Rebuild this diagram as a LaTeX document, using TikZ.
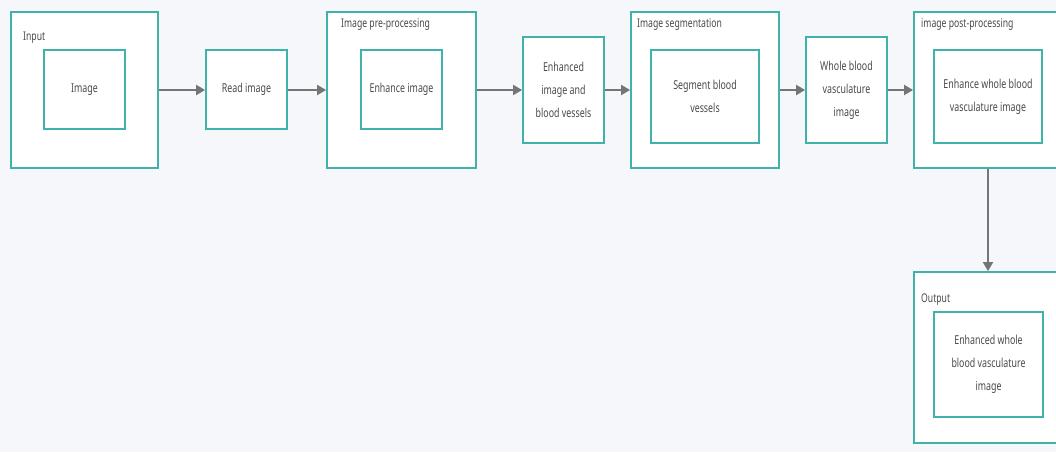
\documentclass[tikz,border=0pt]{standalone}
\usepackage{fontspec}
\setmainfont{Noto Sans}[FakeStretch=0.72]
\usetikzlibrary{arrows.meta}
\definecolor{bgc}{HTML}{F6F7FA}
\definecolor{teal}{HTML}{3FB3AB}
\definecolor{txt}{HTML}{4A4A4A}
\definecolor{arr}{HTML}{757575}
\tikzset{
  frame/.style={draw=teal, line width=1.8pt, fill=white, inner sep=0pt},
  box/.style={frame, align=center, text=txt, font=\fontsize{12.3}{23}\selectfont},
  tag/.style={anchor=west, text=txt, inner sep=0pt, font=\fontsize{12}{14}\selectfont},
  flow/.style={draw=arr, line width=1.8pt, -{Triangle[length=9pt,width=10pt]}},
}
\begin{document}
\begin{tikzpicture}[x=1pt,y=-1pt]
\fill[bgc] (0,0) rectangle (1056,452);
\useasboundingbox (0,0) rectangle (1056,452);
\begin{scope}
\clip (0,0) rectangle (1056,452);
% outer stage frames
\node[frame, minimum width=147pt, minimum height=156pt] (inO)   at (84.5,90) {};
\node[frame, minimum width=149pt, minimum height=156pt] (preO)  at (401.5,90) {};
\node[frame, minimum width=148pt, minimum height=156pt] (segO)  at (705,90) {};
\node[frame, minimum width=148pt, minimum height=156pt] (postO) at (988,90) {};
\node[frame, minimum width=148pt, minimum height=171pt] (outO)  at (988,357.5) {};
% stage titles
\node[tag] (tIn)   at (23,38)  {Input};
\node[tag] (tPre)  at (341,25) {Image pre-processing};
\node[tag] (tSeg)  at (637,25) {Image segmentation};
\node[tag] (tPost) at (921,25) {image post-processing};
\node[tag] (tOut)  at (921,300) {Output};
% process boxes
\node[box, minimum width=81pt, minimum height=79pt]  (img)   at (84.5,89.5)  {Image};
\node[box, minimum width=81pt, minimum height=79pt]  (read)  at (246.5,89.5) {Read image};
\node[box, minimum width=81pt, minimum height=79pt]  (enhI)  at (401.5,89.5) {Enhance image};
\node[box, minimum width=81pt, minimum height=106pt] (enhV)  at (563.5,90)   {Enhanced\\image and\\blood vessels};
\node[box, minimum width=108pt, minimum height=93pt] (segI)  at (705,96.5)   {Segment blood\\vessels};
\node[box, minimum width=81pt, minimum height=106pt] (whole) at (846.5,90)   {Whole blood\\vasculature\\image};
\node[box, minimum width=108pt, minimum height=93pt] (postI) at (988,96.5)   {Enhance whole blood\\vasculature image};
\node[box, minimum width=109pt, minimum height=105pt] (outI) at (988.5,364.5) {Enhanced whole\\blood vasculature\\image};
% connectors
\draw[flow] (inO.east |- 0,90) -- (read.west |- 0,90);
\draw[flow] (read.east |- 0,90) -- (preO.west |- 0,90);
\draw[flow] (preO.east |- 0,90) -- (enhV.west |- 0,90);
\draw[flow] (enhV.east |- 0,90) -- (segO.west |- 0,90);
\draw[flow] (segO.east |- 0,90) -- (whole.west |- 0,90);
\draw[flow] (whole.east |- 0,90) -- (postO.west |- 0,90);
\draw[flow] (postO.south) -- (outO.north);
\end{scope}
\end{tikzpicture}
\end{document}
